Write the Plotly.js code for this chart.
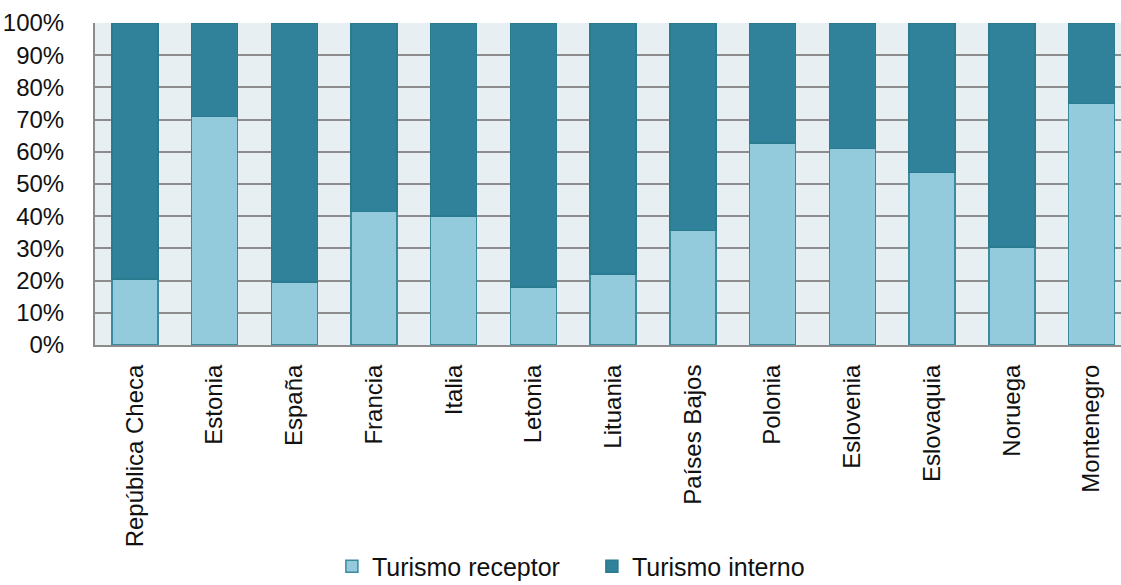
<!DOCTYPE html>
<html>
<head>
<meta charset="utf-8">
<script src="https://cdn.plot.ly/plotly-3.0.1.min.js"></script>
<style>html,body{margin:0;padding:0;background:#fff;}#chart{width:1121px;height:585px;}</style>
</head>
<body>
<div id="chart"></div>
<script>
const categories = ["República Checa","Estonia","España","Francia","Italia","Letonia","Lituania","Países Bajos","Polonia","Eslovenia","Eslovaquia","Noruega","Montenegro"];
const receptor = [20.5, 71, 19.5, 41.5, 40, 18, 22, 35.5, 62.8, 61, 53.5, 30.5, 75];
const interno = [79.5, 29, 80.5, 58.5, 60, 82, 78, 64.5, 37.2, 39, 46.5, 69.5, 25];
const seriesNames = ["Turismo receptor", "Turismo interno"];
const yTickVals = [0,10,20,30,40,50,60,70,80,90,100];
const yTickText = yTickVals.map(v => v + "%");

const font = "Liberation Sans, Arial, sans-serif";
const traces = [
  {type:"bar", name:seriesNames[0], x:categories, y:receptor,
   marker:{color:"#93CBDC", line:{color:"#3A8AA0", width:1.5}}},
  {type:"bar", name:seriesNames[1], x:categories, y:interno,
   marker:{color:"#2F8299", line:{color:"#2A7A90", width:1.5}}}
];
const layout = {
  width:1121, height:585,
  margin:{l:95, r:0, t:23, b:240, autoexpand:false},
  barmode:"stack", bargap:0.423,
  paper_bgcolor:"#ffffff", plot_bgcolor:"#E8EFF3",
  font:{family:font, size:23, color:"#111"},
  showlegend:true,
  legend:{orientation:"h", traceorder:"normal", xref:"container", yref:"paper", x:0.528, xanchor:"center", y:-0.688, yanchor:"middle",
          font:{size:25, color:"#111"}, itemwidth:30, tracegroupgap:0, entrywidth:215, bgcolor:"rgba(0,0,0,0)"},
  xaxis:{type:"category", range:[-0.5, 12.37], tickangle:-90, showgrid:false, showline:true, linecolor:"#8C8C8C", linewidth:2,
         ticks:"", tickfont:{size:24}, ticklabelstandoff:8, automargin:false},
  yaxis:{range:[0,100], tickvals:yTickVals, ticktext:yTickText, showgrid:true, gridcolor:"#8C8C8C", gridwidth:2,
         showline:true, linecolor:"#8C8C8C", linewidth:2, ticks:"", tickfont:{size:24}, ticklabelstandoff:24,
         zeroline:false, fixedrange:true, automargin:false}
};
Plotly.newPlot("chart", traces, layout, {displayModeBar:false, staticPlot:true});
</script>
</body>
</html>
